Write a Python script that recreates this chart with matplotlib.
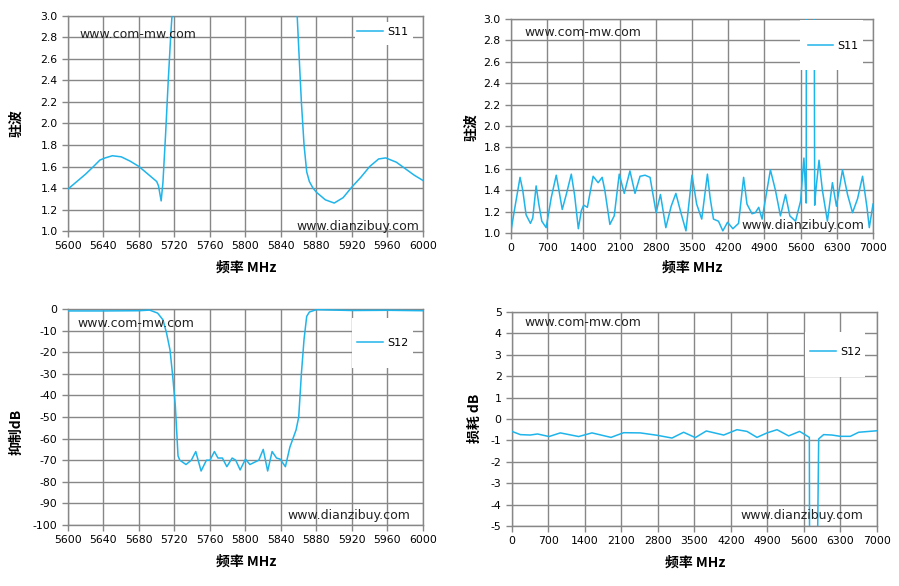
import matplotlib
matplotlib.use("Agg")
import matplotlib.pyplot as plt
from matplotlib.patches import Rectangle

plt.rcParams['font.family'] = ['DejaVu Sans']

# ---- data ----
# top left: S11 VSWR, narrow band
f_s11_nb = [5600, 5610, 5620, 5630, 5636, 5642, 5650, 5660, 5670, 5680, 5690, 5700,
            5702, 5705, 5707, 5710, 5713, 5716, 5718, 5725, 5790, 5850, 5858, 5860,
            5863, 5866, 5869, 5872, 5876, 5880, 5890, 5900, 5910, 5920, 5930, 5940,
            5950, 5958, 5970, 5980, 5990, 6000]
vswr_nb = [1.39, 1.46, 1.53, 1.61, 1.66, 1.68, 1.70, 1.69, 1.65, 1.60, 1.53, 1.46,
           1.42, 1.28, 1.45, 1.90, 2.40, 2.85, 3.10, 3.80, 5.00, 3.80, 3.05, 2.70,
           2.20, 1.80, 1.55, 1.46, 1.40, 1.36, 1.29, 1.26, 1.31, 1.41, 1.50, 1.60,
           1.67, 1.68, 1.64, 1.58, 1.52, 1.47]

# top right: S11 VSWR, wide band
f_s11_wb = [0, 65, 175, 227, 292, 376, 421, 486, 538, 596, 680, 778, 875, 927, 991,
            1069, 1166, 1231, 1302, 1361, 1406, 1477, 1588, 1685, 1763, 1814, 1912,
            1996, 2093, 2190, 2300, 2398, 2495, 2592, 2689, 2806, 2890, 2994, 3097,
            3188, 3285, 3383, 3500, 3590, 3688, 3798, 3850, 3915, 4012, 4096, 4187,
            4291, 4400, 4498, 4563, 4660, 4725, 4790, 4855, 5016, 5113, 5210, 5308,
            5392, 5502, 5600, 5664, 5690, 5704, 5708, 5712, 5790, 5862, 5872, 5895,
            5956, 6021, 6118, 6215, 6293, 6410, 6507, 6604, 6701, 6798, 6883, 6928,
            7000]
vswr_wb = [1.02, 1.21, 1.52, 1.40, 1.17, 1.09, 1.14, 1.44, 1.27, 1.11, 1.05, 1.33,
           1.54, 1.40, 1.22, 1.36, 1.55, 1.35, 1.04, 1.21, 1.26, 1.24, 1.53, 1.47,
           1.52, 1.40, 1.08, 1.16, 1.55, 1.37, 1.58, 1.37, 1.53, 1.54, 1.52, 1.19,
           1.36, 1.05, 1.25, 1.37, 1.19, 1.02, 1.54, 1.27, 1.13, 1.55, 1.33, 1.13,
           1.11, 1.02, 1.10, 1.04, 1.09, 1.52, 1.27, 1.18, 1.19, 1.24, 1.13, 1.59,
           1.40, 1.16, 1.36, 1.16, 1.11, 1.30, 1.70, 1.45, 1.30, 1.28, 3.50, 4.00,
           3.50, 1.26, 1.40, 1.68, 1.40, 1.11, 1.47, 1.25, 1.59, 1.36, 1.19, 1.32,
           1.53, 1.24, 1.05, 1.27]

# bottom left: S12 rejection
f_s12_nb = [5600, 5640, 5680, 5692, 5701, 5707, 5711, 5715, 5718, 5721, 5724, 5726,
            5733, 5739, 5744, 5750, 5756, 5760, 5765, 5769, 5774, 5779, 5785, 5789,
            5794, 5800, 5805, 5812, 5815, 5820, 5825, 5830, 5835, 5839, 5845, 5850,
            5857, 5860, 5863, 5866, 5869, 5872, 5880, 5920, 5960, 6000]
rej_db = [-0.9, -0.9, -0.8, -0.5, -1.9, -5, -11, -19, -31, -45, -68, -70,
          -72, -70, -66, -75, -70, -70, -66, -69, -69, -73, -69, -70,
          -74.5, -69.5, -72, -70.6, -70, -65, -75, -66, -69, -69.5, -73, -64,
          -56, -50, -30, -14, -3.4, -1.4, -0.3, -0.7, -0.6, -0.8]

# bottom right: S12 insertion loss, wide band
f_s12_wb = [0, 160, 350, 490, 710, 927, 1279, 1534, 1899, 2142, 2461, 2781, 3069,
            3292, 3516, 3727, 4060, 4315, 4507, 4699, 4891, 5083, 5306, 5517, 5658,
            5703, 5709, 5780, 5850, 5882, 5977, 6137, 6297, 6489, 6649, 7000]
loss_db = [-0.58, -0.73, -0.75, -0.70, -0.82, -0.65, -0.82, -0.65, -0.86, -0.64,
           -0.65, -0.76, -0.89, -0.62, -0.87, -0.56, -0.75, -0.50, -0.58, -0.86,
           -0.65, -0.50, -0.79, -0.58, -0.79, -0.86, -8.0, -40.0, -8.0, -0.93,
           -0.73, -0.75, -0.81, -0.81, -0.62, -0.55]

LINE = '#1fb4ea'
GRID = '#878787'
CJK = ['Noto Sans CJK SC', 'DejaVu Sans']

fig = plt.figure(figsize=(8.99, 5.86), dpi=100)

ax1 = fig.add_axes([0.0756, 0.6058, 0.3949, 0.3669])
ax2 = fig.add_axes([0.5684, 0.6024, 0.4027, 0.3652])
ax3 = fig.add_axes([0.0756, 0.1041, 0.3949, 0.3686])
ax4 = fig.add_axes([0.5695, 0.1024, 0.4060, 0.3652])


def style(ax, xticks, yticks, yfmt):
    ax.set_xlim(xticks[0], xticks[-1])
    ax.set_ylim(yticks[0], yticks[-1])
    ax.set_xticks(xticks)
    ax.set_yticks(yticks)
    ax.set_yticklabels([yfmt % v for v in yticks])
    ax.grid(True, color=GRID, linewidth=1.0)
    ax.set_axisbelow(True)
    for s in ax.spines.values():
        s.set_color(GRID)
        s.set_linewidth(1.0)
    ax.tick_params(colors=GRID, labelcolor='black', labelsize=7.8, length=4, width=1.0)


def decorate(ax, name, leg_c, box, wm1, wm2, xl, yl, ylab):
    # white legend area, no border
    ax.add_patch(Rectangle((box[0], box[2]), box[1] - box[0], box[3] - box[2],
                           transform=ax.transAxes, facecolor='white', edgecolor='none',
                           zorder=4))
    leg = ax.legend([name], loc='center', bbox_to_anchor=leg_c, frameon=False,
                    fontsize=8, handlelength=2.3, handletextpad=0.4)
    leg.set_zorder(5)
    ax.text(wm1[0], wm1[1], 'www.com-mw.com', transform=ax.transAxes, fontsize=9,
            ha='left', va='center', color='#222222', zorder=6)
    ax.text(wm2[0], wm2[1], 'www.dianzibuy.com', transform=ax.transAxes, fontsize=9,
            ha='right', va='center', color='#222222', zorder=6)
    ax.text(xl[0], xl[1], '频率 MHz', transform=ax.transAxes, fontsize=10,
            fontweight='bold', family=CJK, ha='center', va='center')
    ax.text(yl[0], yl[1], ylab, transform=ax.transAxes, fontsize=10, rotation=90,
            fontweight='bold', family=CJK, ha='center', va='center')


ax1.plot(f_s11_nb, vswr_nb, color=LINE, linewidth=1.1, zorder=3)
style(ax1, list(range(5600, 6001, 40)), [1.0 + 0.2 * i for i in range(11)], '%.1f')
decorate(ax1, 'S11', (0.887, 0.926), (0.808, 0.972, 0.865, 0.972),
         (0.031, 0.916), (0.989, 0.023), (0.501, -0.172), (-0.144, 0.502), '驻波')

ax2.plot(f_s11_wb, vswr_wb, color=LINE, linewidth=1.1, zorder=3)
style(ax2, list(range(0, 7001, 700)), [1.0 + 0.2 * i for i in range(11)], '%.1f')
decorate(ax2, 'S11', (0.890, 0.874), (0.798, 0.972, 0.762, 0.995),
         (0.036, 0.935), (0.975, 0.033), (0.5, -0.164), (-0.11, 0.495), '驻波')

ax3.plot(f_s12_nb, rej_db, color=LINE, linewidth=1.1, zorder=3)
style(ax3, list(range(5600, 6001, 40)), list(range(-100, 1, 10)), '%d')
decorate(ax3, 'S12', (0.887, 0.843), (0.800, 0.972, 0.727, 0.958),
         (0.028, 0.935), (0.963, 0.042), (0.501, -0.171), (-0.144, 0.43), '抑制dB')

ax4.plot(f_s12_wb, loss_db, color=LINE, linewidth=1.1, zorder=3)
style(ax4, list(range(0, 7001, 700)), list(range(-5, 6, 1)), '%d')
decorate(ax4, 'S12', (0.888, 0.813), (0.803, 0.967, 0.696, 0.907),
         (0.033, 0.949), (0.964, 0.047), (0.501, -0.173), (-0.101, 0.505), '损耗 dB')

fig.savefig('out.png', dpi=100)
